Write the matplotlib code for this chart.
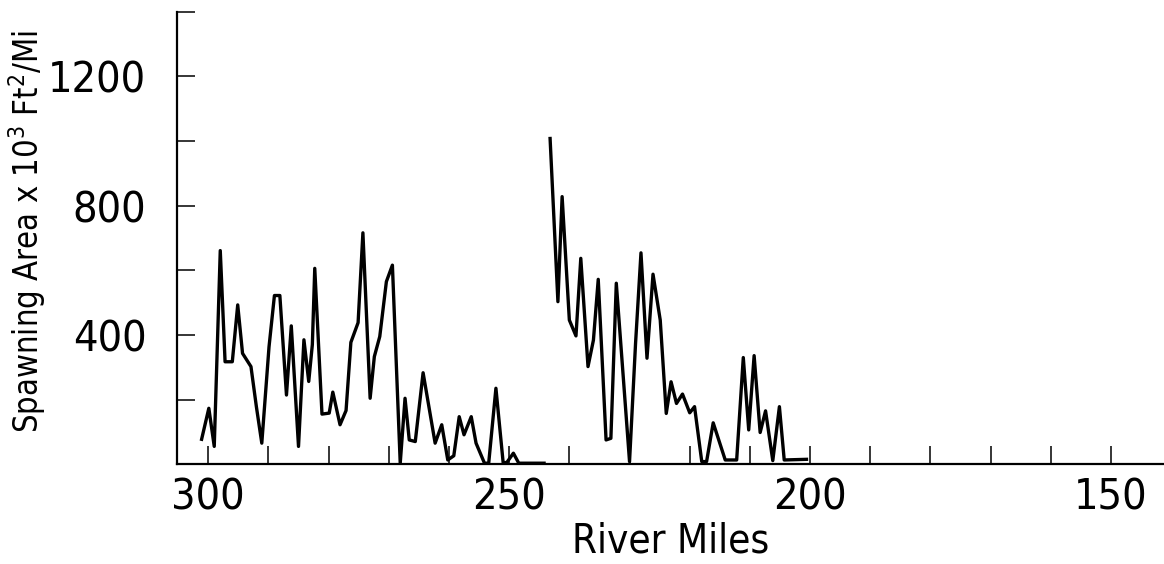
import numpy as np
import matplotlib.pyplot as plt

plt.rcParams['font.family'] = ['DejaVu Sans']
plt.rcParams['font.stretch'] = 'condensed'

# first stretch of river (upstream of the gap)
miles_a = [301.1, 299.9, 299.0, 298.0, 297.2, 296.0, 295.1, 294.3, 292.9, 292.0,
           291.1, 289.9, 289.0, 288.1, 287.0, 286.2, 285.0, 284.1, 283.3, 282.7,
           282.3, 281.1, 279.9, 279.3, 278.1, 277.1, 276.3, 275.1, 274.3, 273.1,
           272.4, 271.5, 270.4, 269.4, 268.1, 267.3, 266.6, 265.6, 264.3, 262.3,
           261.2, 260.2, 259.2, 258.3, 257.5, 256.3, 255.5, 254.1, 253.4, 252.2,
           251.0, 250.4, 249.3, 248.4, 244.2]
area_a = [77, 173, 55, 661, 317, 317, 493, 343, 302, 178,
          65, 363, 522, 522, 214, 428, 55, 385, 256, 370,
          606, 155, 158, 223, 122, 166, 377, 438, 716, 204,
          333, 395, 565, 616, 3, 204, 75, 70, 283, 65,
          122, 13, 26, 147, 91, 147, 65, 3, 3, 235,
          5, 5, 34, 3, 3]

# second stretch
miles_b = [243.2, 241.9, 241.2, 240.0, 238.9, 238.1, 236.9, 236.0, 235.2, 233.9,
           233.1, 232.2, 230.0, 229.0, 228.1, 227.1, 226.1, 224.9, 223.9, 223.1,
           222.2, 221.2, 220.0, 219.2, 218.0, 217.2, 216.1, 214.1, 212.2, 211.1,
           210.2, 209.3, 208.3, 207.4, 206.2, 205.1, 204.3, 200.6]
area_b = [1008, 503, 828, 446, 397, 637, 302, 384, 572, 75,
          80, 560, 8, 374, 654, 328, 588, 446, 157, 255,
          188, 217, 159, 178, 8, 8, 128, 13, 13, 330,
          106, 336, 98, 165, 11, 178, 13, 15]

fig = plt.figure(figsize=(11.64, 5.64), dpi=100)
ax = fig.add_axes([0.152, 0.177, 0.848, 0.802])

ax.plot(miles_a, area_a, color='black', lw=2.4)
ax.plot(miles_b, area_b, color='black', lw=2.4)

ax.set_xlim(305.2, 141.2)
ax.set_ylim(0, 1400)

ax.spines['top'].set_visible(False)
ax.spines['right'].set_visible(False)
ax.spines['left'].set_linewidth(1.6)
ax.spines['bottom'].set_linewidth(1.6)

ax.set_xticks(np.arange(150, 301, 10))
ax.set_xticklabels(['150', '', '', '', '', '200', '', '', '', '', '250', '', '', '', '', '300'])
ax.set_yticks(np.arange(200, 1401, 200))
ax.set_yticklabels(['', '400', '', '800', '', '1200', ''])
ax.tick_params(axis='both', direction='in', length=13, width=1.1, labelsize=31)
ax.tick_params(axis='x', pad=9)
ax.tick_params(axis='y', pad=22)

ax.set_xlabel('River Miles', fontsize=29, labelpad=2)
ax.set_ylabel(r'Spawning Area x 10$^3$ Ft$^2$/Mi', fontsize=23.5)
ax.yaxis.set_label_coords(-0.131, 0.515)

fig.savefig('out.png', dpi=100)
